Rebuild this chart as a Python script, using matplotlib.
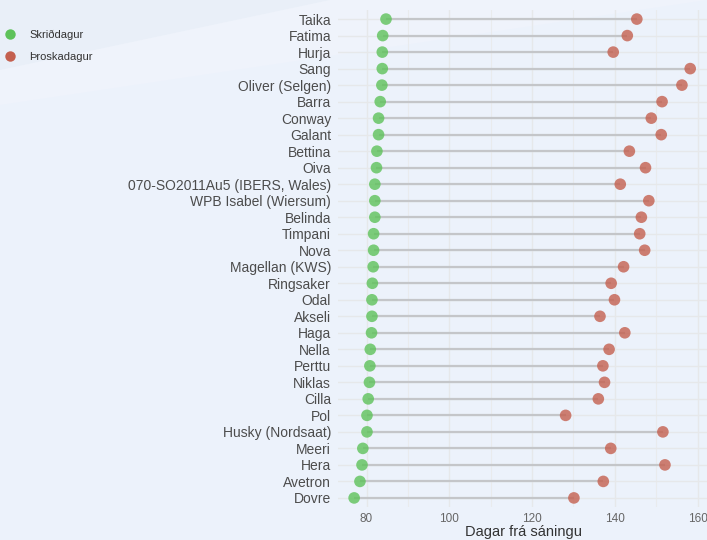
import matplotlib
matplotlib.use("Agg")
import matplotlib.pyplot as plt
from matplotlib.patches import Polygon
from matplotlib.lines import Line2D

plt.rcParams['font.family'] = ['Liberation Sans', 'DejaVu Sans']

varieties = ["Taika", "Fatima", "Hurja", "Sang", "Oliver (Selgen)", "Barra", "Conway",
             "Galant", "Bettina", "Oiva", "070-SO2011Au5 (IBERS, Wales)",
             "WPB Isabel (Wiersum)", "Belinda", "Timpani", "Nova", "Magellan (KWS)",
             "Ringsaker", "Odal", "Akseli", "Haga", "Nella", "Perttu", "Niklas", "Cilla",
             "Pol", "Husky (Nordsaat)", "Meeri", "Hera", "Avetron", "Dovre"]
skridagur = [84.7, 83.9, 83.8, 83.8, 83.7, 83.3, 82.9, 82.9, 82.5, 82.4, 82.0, 82.0, 82.0,
             81.7, 81.7, 81.6, 81.4, 81.3, 81.3, 81.2, 80.9, 80.8, 80.7, 80.4, 80.1, 80.1,
             79.1, 78.9, 78.4, 77.0]
throskadagur = [145.3, 143.0, 139.6, 158.2, 156.2, 151.4, 148.8, 151.2, 143.5, 147.4, 141.3,
                148.2, 146.4, 146.0, 147.2, 142.1, 139.1, 139.9, 136.4, 142.4, 138.6, 137.1,
                137.5, 136.0, 128.1, 151.6, 139.0, 152.1, 137.2, 130.1]
xticks = [80, 100, 120, 140, 160]
legend_labels = ["Skriðdagur", "Þroskadagur"]

bg = "#ECF2FB"
green = "#5EC25A"
red = "#C4604F"

fig = plt.figure(figsize=(7.07, 5.40), dpi=100, facecolor=bg)
# subtle diagonal shading in the background
band2 = Polygon([(0, 1.0), (330/707, 1.0), (0, 1 - 70/540)],
                closed=True, transform=fig.transFigure, facecolor="#E9EFF8", edgecolor="none",
                zorder=-10)
fig.patches.append(band2)
band = Polygon([(0, 1 - 70/540), (330/707, 1.0), (1.0, 1.0), (0, 1 - 105/540)],
               closed=True, transform=fig.transFigure, facecolor="#EFF3FB", edgecolor="none",
               zorder=-10)
fig.patches.append(band)

ax = fig.add_axes([338/707, 1 - 507/540, 1 - 338/707 + 0.002, (507 - 10)/540])
ax.set_facecolor("none")
ax.set_zorder(1)

n = len(varieties)
ypos = [n - 1 - i for i in range(n)]

ax.hlines(ypos, skridagur, throskadagur, color="#C4C6C9", linewidth=1.6, zorder=2)
ax.scatter(skridagur, ypos, s=70, color=green, alpha=0.8, edgecolors="none", zorder=3)
ax.scatter(throskadagur, ypos, s=70, color=red, alpha=0.8, edgecolors="none", zorder=3)

ax.set_xlim(73.1, 162.6)
ax.set_ylim(-0.55, n - 1 + 0.55)
ax.set_yticks(ypos)
ax.set_yticklabels(varieties, fontsize=10, color="#4C4C4C")
ax.set_xticks(xticks)
ax.set_xticklabels([str(t) for t in xticks], fontsize=8.5, color="#666666")
ax.set_xticks([90, 110, 130, 150], minor=True)
ax.tick_params(axis="both", which="both", length=0)
ax.tick_params(axis="x", pad=4)
ax.tick_params(axis="y", pad=5)
ax.grid(True, which="major", color="#E6E8EA", linewidth=1.0, zorder=0)
ax.grid(True, which="minor", axis="x", color="#E9EBED", linewidth=0.8, zorder=0)
for s in ax.spines.values():
    s.set_visible(False)
ax.set_xlabel("Dagar frá sáningu", fontsize=10.5, color="#333333", labelpad=0)

handles = [Line2D([0], [0], marker="o", linestyle="none", markersize=7.5, markerfacecolor=green,
                  markeredgecolor="none"),
           Line2D([0], [0], marker="o", linestyle="none", markersize=7.5, markerfacecolor=red,
                  markeredgecolor="none")]
fig.legend(handles, legend_labels, loc="upper left", bbox_to_anchor=(-0.004, 1 - 22/540),
           frameon=False, fontsize=8, labelcolor="#333333", handlelength=0.9,
           handletextpad=1.3, labelspacing=1.05, borderaxespad=0.3)

fig.savefig("out.png", dpi=100, facecolor=bg)
